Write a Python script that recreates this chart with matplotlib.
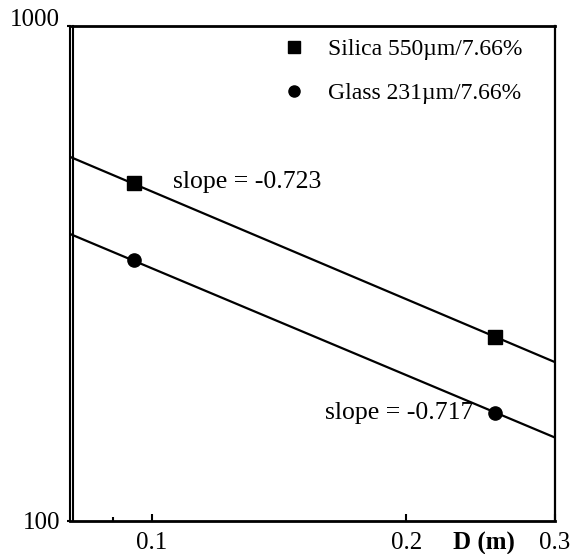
import matplotlib.pyplot as plt
import matplotlib.transforms as mtransforms
from matplotlib.lines import Line2D
import numpy as np

plt.rcParams['font.family'] = ['Liberation Serif', 'DejaVu Serif']

# data (D in m)
d_silica = [0.0953, 0.2547]
v_silica = [481, 235]
d_glass = [0.0953, 0.2547]
v_glass = [337, 165]
silica_label = 'Silica 550µm/7.66%'
glass_label = 'Glass 231µm/7.66%'
silica_slope = -0.723
glass_slope = -0.717

x_min, x_max = 0.08, 0.3
y_min, y_max = 100, 1000

fig = plt.figure(figsize=(5.8, 5.54), dpi=100)
ax = fig.add_axes([0.1202, 0.0596, 0.8367, 0.8935])
ax.set_xscale('log')
ax.set_yscale('log')
ax.set_xlim(x_min, x_max)
ax.set_ylim(y_min, y_max)

# power-law fit lines over the whole x range
xx = np.array([x_min, x_max])
for d, v, slope in [(d_silica, v_silica, silica_slope), (d_glass, v_glass, glass_slope)]:
    x0 = np.exp(np.mean(np.log(d)))
    y0 = np.exp(np.mean(np.log(v)))
    ax.plot(xx, y0 * (xx / x0) ** slope, color='black', lw=1.6, zorder=2)

ax.plot(d_silica, v_silica, 's', color='black', ms=10.5, zorder=3)
ax.plot(d_glass, v_glass, 'o', color='black', ms=9.5, zorder=3)

ax.text(0.106, 485, 'slope = %.3f' % silica_slope, fontsize=18.5, va='center', ha='left')
ax.text(0.240, 165, 'slope = %.3f' % glass_slope, fontsize=18.5, va='center', ha='right')

handles = [Line2D([], [], ls='none', marker='s', color='black', ms=9),
           Line2D([], [], ls='none', marker='o', color='black', ms=8)]
ax.legend(handles, [silica_label, glass_label], loc='upper left',
          bbox_to_anchor=(0.395, 1.018), frameon=False, fontsize=17,
          handlelength=1.0, handletextpad=0.9, labelspacing=0.95)

# ticks
ax.set_xticks([0.1, 0.2, 0.3])
ax.set_xticklabels(['0.1', '0.2', '0.3'])
ax.set_xticks([0.09], minor=True)
ax.set_xticklabels([], minor=True)
ax.tick_params(axis='x', which='major', direction='in', length=5, width=1.5,
               labelsize=18, pad=8)
ax.tick_params(axis='x', which='minor', direction='in', length=3, width=1.5)
ax.set_yticks([100, 1000])
ax.set_yticklabels(['100', '1000'])
ax.set_yticks([], minor=True)
ax.tick_params(axis='y', which='major', direction='out', length=2, width=1.5,
               labelsize=18, pad=5)
ax.get_yticklabels()[1].set_va('baseline')

ax.text(0.854, -0.022, 'D (m)', transform=ax.transAxes, fontsize=18,
        fontweight='bold', ha='center', va='top')

for side in ['top', 'bottom']:
    ax.spines[side].set_linewidth(2.0)
ax.spines['right'].set_linewidth(1.6)
ax.spines['left'].set_linewidth(1.5)
# double line on the left axis
inner = mtransforms.offset_copy(ax.transAxes, fig=fig, x=3.5, y=0, units='dots')
ax.plot([0, 0], [0, 1], transform=inner, color='black', lw=1.5, clip_on=False)

fig.savefig('out.png', dpi=100)
